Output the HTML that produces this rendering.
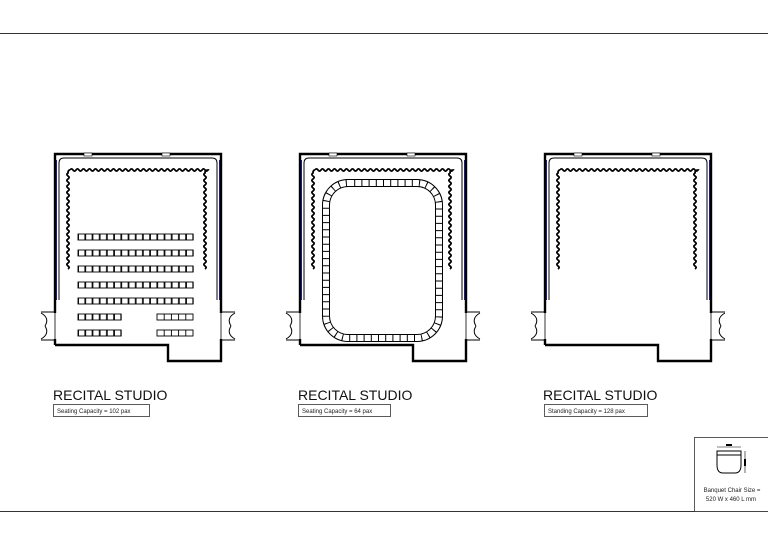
<!DOCTYPE html>
<html><head><meta charset="utf-8"><style>
html,body{margin:0;padding:0;background:#fff;}
svg{display:block;font-family:"Liberation Sans",sans-serif;}
</style></head><body>
<svg width="768" height="543" viewBox="0 0 768 543" xmlns="http://www.w3.org/2000/svg">
<defs>
<pattern id="ch" x="78" y="0" width="7.2" height="543" patternUnits="userSpaceOnUse">
<rect x="0.5" y="0" width="6.4" height="543" fill="#fff" stroke="#000" stroke-width="0.9"/>
</pattern>
<g id="room">
 <path d="M55,345 V154 H221 V345 M221,345 V361 H168 V345 H55" fill="none" stroke="#000" stroke-width="2.4"/>
 <path d="M59,300 V163 Q59,158 64,158 H212 Q217,158 217,163 V300" fill="none" stroke="#000" stroke-width="1"/>
 <line x1="56.5" y1="160" x2="56.5" y2="300" stroke="#1a1a8a" stroke-width="1"/>
 <line x1="219.5" y1="160" x2="219.5" y2="300" stroke="#1a1a8a" stroke-width="1"/>
 <rect x="84" y="153" width="8" height="3" fill="#fff" stroke="#000" stroke-width="0.6"/>
 <rect x="162" y="153" width="8" height="3" fill="#fff" stroke="#000" stroke-width="0.6"/>
 <rect x="53" y="313" width="4" height="26" fill="#fff"/>
 <rect x="219" y="313" width="4" height="26" fill="#fff"/>
 <path d="M55,312 H41 M55,340 H41 M41,313 Q50,318 45,326 M41,339 Q50,334 45,326" fill="none" stroke="#000" stroke-width="1"/>
 <path d="M221,312 H235 M221,340 H235 M235,313 Q226,318 231,326 M235,339 Q226,334 231,326" fill="none" stroke="#000" stroke-width="1"/>
 <line x1="55" y1="313" x2="55" y2="339" stroke="#000" stroke-width="0.8"/>
 <line x1="221" y1="313" x2="221" y2="339" stroke="#000" stroke-width="0.8"/>
 <g fill="none" stroke="#000" stroke-width="1.8">
 <path d="M70,170
 q1.5,-2.2 3,0 q1.5,2.2 3,0 q1.5,-2.2 3,0 q1.5,2.2 3,0 q1.5,-2.2 3,0 q1.5,2.2 3,0 q1.5,-2.2 3,0 q1.5,2.2 3,0
 q1.5,-2.2 3,0 q1.5,2.2 3,0 q1.5,-2.2 3,0 q1.5,2.2 3,0 q1.5,-2.2 3,0 q1.5,2.2 3,0 q1.5,-2.2 3,0 q1.5,2.2 3,0
 q1.5,-2.2 3,0 q1.5,2.2 3,0 q1.5,-2.2 3,0 q1.5,2.2 3,0 q1.5,-2.2 3,0 q1.5,2.2 3,0 q1.5,-2.2 3,0 q1.5,2.2 3,0
 q1.5,-2.2 3,0 q1.5,2.2 3,0 q1.5,-2.2 3,0 q1.5,2.2 3,0 q1.5,-2.2 3,0 q1.5,2.2 3,0 q1.5,-2.2 3,0 q1.5,2.2 3,0
 q1.5,-2.2 3,0 q1.5,2.2 3,0 q1.5,-2.2 3,0 q1.5,2.2 3,0 q1.5,-2.2 3,0 q1.5,2.2 3,0 q1.5,-2.2 3,0 q1.5,2.2 3,0
 q1.5,-2.2 3,0 q1.5,2.2 3,0 q1.5,-2.2 3,0 q1.5,2.2 3,0 q1.5,-2.2 3,0 q1.5,2.2 3,0
 Q205,170 205,173
 q-2.2,1.5 0,3 q2.2,1.5 0,3 q-2.2,1.5 0,3 q2.2,1.5 0,3 q-2.2,1.5 0,3 q2.2,1.5 0,3 q-2.2,1.5 0,3 q2.2,1.5 0,3
 q-2.2,1.5 0,3 q2.2,1.5 0,3 q-2.2,1.5 0,3 q2.2,1.5 0,3 q-2.2,1.5 0,3 q2.2,1.5 0,3 q-2.2,1.5 0,3 q2.2,1.5 0,3
 q-2.2,1.5 0,3 q2.2,1.5 0,3 q-2.2,1.5 0,3 q2.2,1.5 0,3 q-2.2,1.5 0,3 q2.2,1.5 0,3 q-2.2,1.5 0,3 q2.2,1.5 0,3
 q-2.2,1.5 0,3 q2.2,1.5 0,3 q-2.2,1.5 0,3 q2.2,1.5 0,3 q-2.2,1.5 0,3 q2.2,1.5 0,3 q-2.2,1.5 0,3 q2.2,1.5 0,3"/>
 <path d="M70,170 Q68,170 68,173 q-2.2,1.5 0,3 q2.2,1.5 0,3 q-2.2,1.5 0,3 q2.2,1.5 0,3 q-2.2,1.5 0,3 q2.2,1.5 0,3 q-2.2,1.5 0,3 q2.2,1.5 0,3
 q-2.2,1.5 0,3 q2.2,1.5 0,3 q-2.2,1.5 0,3 q2.2,1.5 0,3 q-2.2,1.5 0,3 q2.2,1.5 0,3 q-2.2,1.5 0,3 q2.2,1.5 0,3
 q-2.2,1.5 0,3 q2.2,1.5 0,3 q-2.2,1.5 0,3 q2.2,1.5 0,3 q-2.2,1.5 0,3 q2.2,1.5 0,3 q-2.2,1.5 0,3 q2.2,1.5 0,3
 q-2.2,1.5 0,3 q2.2,1.5 0,3 q-2.2,1.5 0,3 q2.2,1.5 0,3 q-2.2,1.5 0,3 q2.2,1.5 0,3 q-2.2,1.5 0,3 q2.2,1.5 0,3"/>
 </g>
</g>
</defs>

<line x1="0" y1="33.5" x2="768" y2="33.5" stroke="#333" stroke-width="1"/>
<line x1="0" y1="511.5" x2="768" y2="511.5" stroke="#333" stroke-width="1"/>

<use href="#room"/>
<g fill="url(#ch)" stroke="#000" stroke-width="0.9">
<rect x="78" y="234" width="115.2" height="6"/>
<rect x="78" y="250" width="115.2" height="6"/>
<rect x="78" y="266" width="115.2" height="6"/>
<rect x="78" y="282" width="115.2" height="6"/>
<rect x="78" y="298" width="115.2" height="6"/>
<rect x="78" y="314" width="43.2" height="6"/>
<rect x="78" y="330" width="43.2" height="6"/>
<rect x="157" y="314" width="36" height="6" fill="#fff"/>
<rect x="157" y="330" width="36" height="6" fill="#fff"/>
</g>
<path d="M164.2,314 v6 M171.4,314 v6 M178.6,314 v6 M185.8,314 v6 M164.2,330 v6 M171.4,330 v6 M178.6,330 v6 M185.8,330 v6" stroke="#000" stroke-width="0.9"/>

<g transform="translate(245,0)"><use href="#room"/></g>
<rect x="326" y="183" width="113" height="155" rx="22" fill="none" stroke="#000" stroke-width="8"/>
<rect x="326" y="183" width="113" height="155" rx="22" fill="none" stroke="#fff" stroke-width="6" stroke-dasharray="6.2 1"/>

<g transform="translate(490,0)"><use href="#room"/></g>

<g font-size="14" fill="#111">
<text x="53" y="400">RECITAL STUDIO</text>
<text x="298" y="400">RECITAL STUDIO</text>
<text x="543" y="400">RECITAL STUDIO</text>
</g>
<g fill="#fff" stroke="#333" stroke-width="0.8">
<rect x="53.5" y="404.5" width="96" height="12"/>
<rect x="298.5" y="404.5" width="92" height="12"/>
<rect x="544.5" y="404.5" width="103" height="12"/>
</g>
<g font-size="6" fill="#222">
<text x="57" y="413">Seating Capacity = 102 pax</text>
<text x="302" y="413">Seating Capacity = 64 pax</text>
<text x="548" y="413">Standing Capacity =  128 pax</text>
</g>

<rect x="694.5" y="437.5" width="80" height="74" fill="#fff" stroke="#333" stroke-width="0.8"/>
<path d="M717,451 H741 V465 Q741,473 735,473 H723 Q717,473 717,465 Z" fill="#fff" stroke="#000" stroke-width="1"/>
<line x1="717" y1="455" x2="741" y2="455" stroke="#000" stroke-width="1"/>
<line x1="717" y1="447" x2="741" y2="447" stroke="#000" stroke-width="0.6"/>
<line x1="745" y1="451" x2="745" y2="473" stroke="#000" stroke-width="0.6"/>
<rect x="726" y="444" width="6" height="2" fill="#000"/>
<rect x="744" y="459" width="2" height="7" fill="#000"/>
<g font-size="6" fill="#222" text-anchor="middle">
<text x="732" y="492">Banquet Chair Size =</text>
<text x="731" y="501">520 W x 460 L mm</text>
</g>
</svg>
</body></html>
